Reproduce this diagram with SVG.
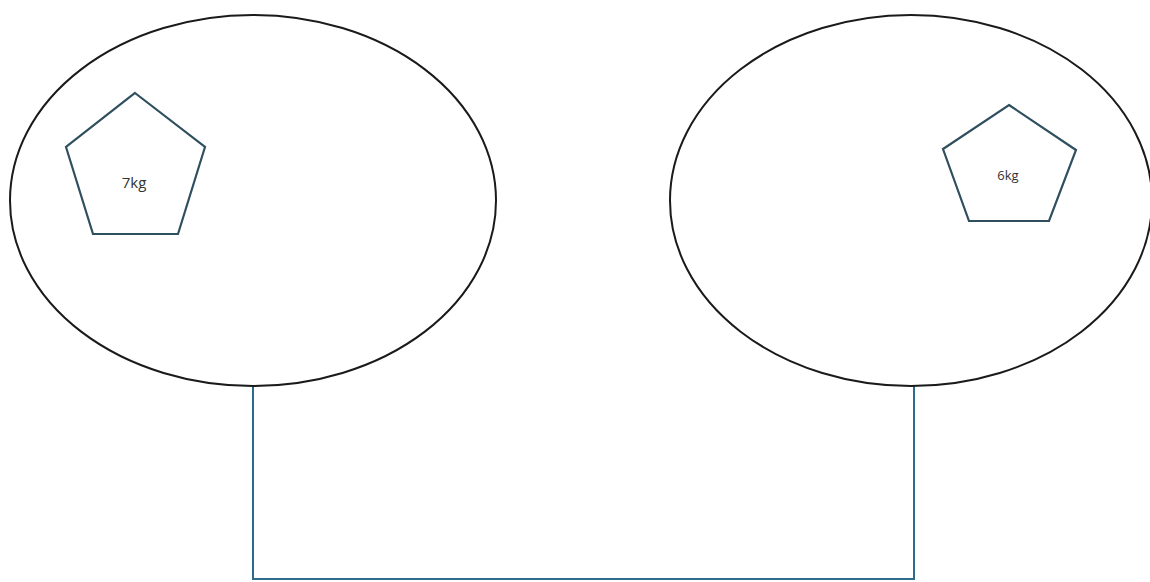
<svg xmlns="http://www.w3.org/2000/svg" width="1150" height="582" viewBox="0 0 1150 582">
<style>
.pan{fill:none;stroke:#1a1a1a;stroke-width:2}
.wt{fill:#fff;stroke:#2f4f5f;stroke-width:2.2;stroke-linejoin:miter}
.lbl{font-family:"Open Sans","Liberation Sans",Arial,sans-serif;fill:#333;text-anchor:middle;dominant-baseline:central}
.conn{fill:none;stroke:#2e6c8e;stroke-width:2}
</style>
<rect width="1150" height="582" fill="#fff"/>
<g id="connectors">
<polyline class="conn" points="253,386 253,579 914,579 914,386"/>
</g>
<g id="pan-left"><ellipse class="pan" cx="253" cy="200.5" rx="243" ry="185.5"/></g>
<g id="pan-right"><ellipse class="pan" cx="911" cy="200.5" rx="241" ry="185.5"/></g>
<g id="weight-7kg">
<polygon class="wt" points="135,93 205,147 178,234 93,234 66,147"/>
<text class="lbl" x="134" y="182" font-size="15">7kg</text>
</g>
<g id="weight-6kg">
<polygon class="wt" points="1009,105 1076,150 1049,221 969,221 943,149"/>
<text class="lbl" x="1008" y="175" font-size="13">6kg</text>
</g>
</svg>
